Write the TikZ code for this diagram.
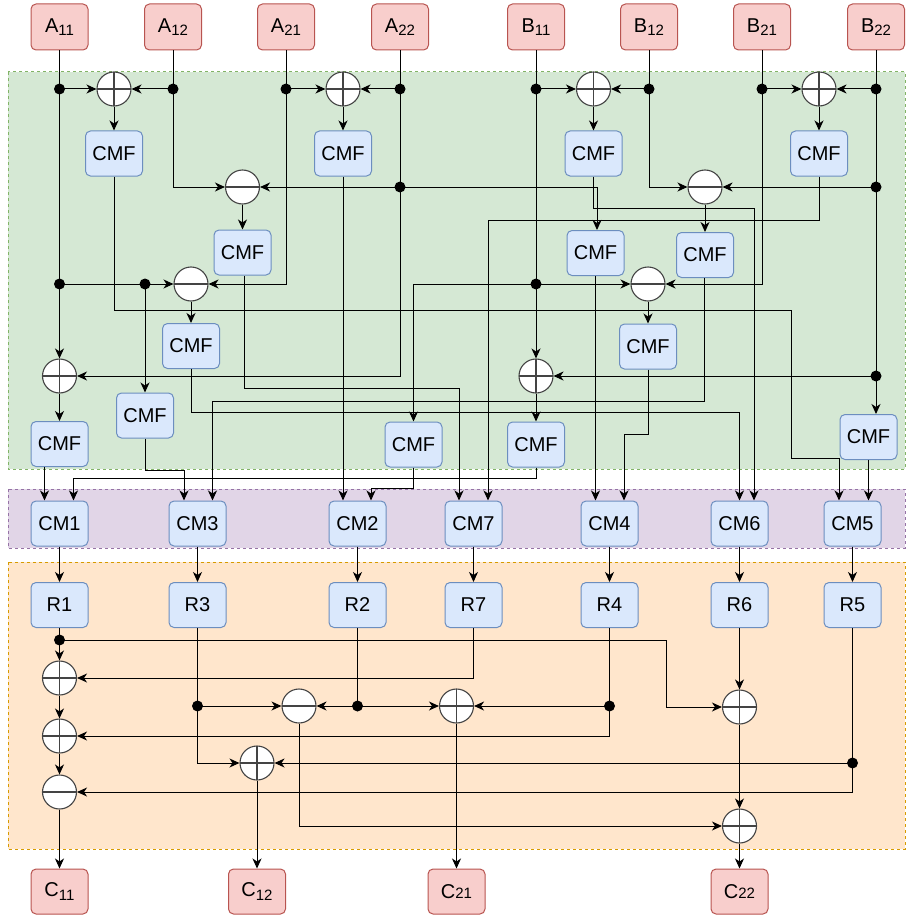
\documentclass[tikz,border=0pt]{standalone}
\usepackage{fontspec}
\setmainfont{Liberation Sans}
\usetikzlibrary{arrows.meta}
\definecolor{gfill}{HTML}{D5E8D4}
\definecolor{gdraw}{HTML}{82B366}
\definecolor{pfill}{HTML}{E1D5E7}
\definecolor{pdraw}{HTML}{9673A6}
\definecolor{ofill}{HTML}{FFE6CC}
\definecolor{odraw}{HTML}{D79B00}
\definecolor{bfill}{HTML}{DAE8FC}
\definecolor{bdraw}{HTML}{6C8EBF}
\definecolor{rfill}{HTML}{F8CECC}
\definecolor{rdraw}{HTML}{B85450}
\definecolor{opdraw}{HTML}{444444}
\newcommand{\lsub}[1]{\raisebox{-3.5pt}{\fontsize{15}{15}\selectfont #1}}
\newcommand{\bsub}[1]{{\fontsize{15}{15}\selectfont #1}}
\tikzset{
  bx/.style={draw=bdraw, fill=bfill, rounded corners=5pt, minimum width=57pt, minimum height=45pt, inner sep=0pt, line width=1pt, font=\fontsize{20}{20}\selectfont},
  io/.style={bx, draw=rdraw, fill=rfill, minimum height=46pt},
  opbase/.style={circle, draw=opdraw, fill=white, minimum size=34pt, inner sep=0pt, line width=1.1pt},
  opplus/.style={opbase, path picture={\draw[opdraw, line width=1.1pt] (path picture bounding box.north) -- (path picture bounding box.south) (path picture bounding box.west) -- (path picture bounding box.east);}},
  opminus/.style={opbase, path picture={\draw[opdraw, line width=1.1pt] (path picture bounding box.west) -- (path picture bounding box.east);}},
  jdot/.style={circle, fill=black, minimum size=11pt, inner sep=0pt},
  wire/.style={line width=1pt},
  arr/.style={line width=1pt, -{Stealth[length=10pt,width=9pt,inset=3pt]}},
  region/.style={line width=1pt, dash pattern=on 3pt off 3pt}
}
\begin{document}
\begin{tikzpicture}[x=1pt,y=-1pt]
\useasboundingbox (0,0) rectangle (907,915);
% regions
\draw[region, draw=gdraw, fill=gfill] (8,72) rectangle (905,469);
\draw[region, draw=pdraw, fill=pfill] (8,489) rectangle (905,548);
\draw[region, draw=odraw, fill=ofill] (8,562) rectangle (905,849);
% inputs
\node[io] (a11) at (59.5,27) {A\lsub{11}};
\node[io] (a12) at (173,27) {A\lsub{12}};
\node[io] (a21) at (286,27) {A\lsub{21}};
\node[io] (a22) at (400,27) {A\lsub{22}};
\node[io] (b11) at (536,27) {B\lsub{11}};
\node[io] (b12) at (649,27) {B\lsub{12}};
\node[io] (b21) at (762,27) {B\lsub{21}};
\node[io] (b22) at (876,27) {B\lsub{22}};
% junction dots
\node[jdot] (da11) at (59.5,89) {};
\node[jdot] (da12) at (173,89) {};
\node[jdot] (da21) at (286,89) {};
\node[jdot] (da22) at (400,89) {};
\node[jdot] (db11) at (536,89) {};
\node[jdot] (db12) at (649,89) {};
\node[jdot] (db21) at (762,89) {};
\node[jdot] (db22) at (876,89) {};
\node[jdot] (da22b) at (400,187) {};
\node[jdot] (db22b) at (876,187) {};
\node[jdot] (da11b) at (59.5,284) {};
\node[jdot] (da11c) at (145,284) {};
\node[jdot] (db11b) at (536,284) {};
\node[jdot] (db22c) at (876,376) {};
% operators (top)
\node[opplus] (p1) at (114,89) {};
\node[opplus] (p2) at (343,89) {};
\node[opplus] (p3) at (593.5,89) {};
\node[opplus] (p4) at (819,89) {};
\node[opminus] (m1) at (242.5,187) {};
\node[opminus] (m2) at (705,187) {};
\node[opminus] (m3) at (191,284) {};
\node[opminus] (m4) at (648,284) {};
\node[opplus] (p5) at (59.5,376) {};
\node[opplus] (p6) at (536,376) {};
% CMF boxes
\node[bx] (f1) at (114,153.5) {CMF};
\node[bx] (f2) at (343,153.5) {CMF};
\node[bx] (f3) at (593.5,153.5) {CMF};
\node[bx] (f4) at (819,153.5) {CMF};
\node[bx] (f5) at (242.5,252.5) {CMF};
\node[bx] (f6) at (595.5,253) {CMF};
\node[bx] (f7) at (705,255) {CMF};
\node[bx] (f8) at (191,346) {CMF};
\node[bx] (f9) at (648,346.5) {CMF};
\node[bx] (f10) at (145,415.5) {CMF};
\node[bx] (f11) at (59.5,444) {CMF};
\node[bx] (f12) at (413.5,444.5) {CMF};
\node[bx] (f13) at (536,444.5) {CMF};
\node[bx] (f14) at (868.5,437) {CMF};
% CM boxes
\node[bx] (cm1) at (59.5,523.5) {CM1};
\node[bx] (cm3) at (197.5,523.5) {CM3};
\node[bx] (cm2) at (357.5,523.5) {CM2};
\node[bx] (cm7) at (473.5,523.5) {CM7};
\node[bx] (cm4) at (609.5,523.5) {CM4};
\node[bx] (cm6) at (739.5,523.5) {CM6};
\node[bx] (cm5) at (852.5,523.5) {CM5};
% R boxes
\node[bx] (r1) at (59.5,605) {R1};
\node[bx] (r3) at (197.5,605) {R3};
\node[bx] (r2) at (357.5,605) {R2};
\node[bx] (r7) at (473.5,605) {R7};
\node[bx] (r4) at (609.5,605) {R4};
\node[bx] (r6) at (739.5,605) {R6};
\node[bx] (r5) at (852.5,605) {R5};
% bottom operators
\node[opplus] (q1) at (59.5,678) {};
\node[opplus] (q2) at (59.5,736) {};
\node[opminus] (q3) at (59.5,792) {};
\node[opminus] (q4) at (299,706) {};
\node[opplus] (q5) at (456.5,706) {};
\node[opplus] (q6) at (257,763) {};
\node[opplus] (q7) at (739.5,707) {};
\node[opplus] (q8) at (739.5,826) {};
\node[jdot] (e1) at (59.5,640) {};
\node[jdot] (e3) at (197.5,706) {};
\node[jdot] (e2) at (357.5,706) {};
\node[jdot] (e4) at (609.5,706) {};
\node[jdot] (e5) at (852.5,763) {};
% outputs
\node[io, minimum height=45pt] (c11) at (59.5,891.5) {C\lsub{11}};
\node[io, minimum height=45pt] (c12) at (257,891.5) {C\lsub{12}};
\node[io, minimum height=45pt] (c21) at (456.5,891.5) {C\bsub{21}};
\node[io, minimum height=45pt] (c22) at (739.5,891.5) {C\bsub{22}};
% ---- wires, top stage
\foreach \s/\d in {a11/da11,a12/da12,a21/da21,a22/da22,b11/db11,b12/db12,b21/db21,b22/db22}
  \draw[wire] (\s.south) -- (\d.center);
\draw[arr] (da11.center) -- (p1.west);
\draw[arr] (da12.center) -- (p1.east);
\draw[arr] (da21.center) -- (p2.west);
\draw[arr] (da22.center) -- (p2.east);
\draw[arr] (db11.center) -- (p3.west);
\draw[arr] (db12.center) -- (p3.east);
\draw[arr] (db21.center) -- (p4.west);
\draw[arr] (db22.center) -- (p4.east);
\draw[arr] (p1.south) -- (f1.north);
\draw[arr] (p2.south) -- (f2.north);
\draw[arr] (p3.south) -- (f3.north);
\draw[arr] (p4.south) -- (f4.north);
% A11
\draw[wire] (da11.center) -- (da11b.center);
\draw[arr] (da11b.center) -- (p5.north);
\draw[arr] (da11b.center) -- (m3.west);
\draw[arr] (da11c.center) -- (f10.north);
% A12, A21
\draw[arr] (da12.center) |- (m1.west);
\draw[arr] (da21.center) |- (m3.east);
% A22
\draw[wire] (da22.center) -- (da22b.center);
\draw[arr] (da22b.center) |- (p5.east);
\draw[arr] (da22b.center) -- (m1.east);
\draw[arr] (da22b.center) -| ([xshift=1.5pt]f6.north);
% B11
\draw[wire] (db11.center) -- (db11b.center);
\draw[arr] (db11b.center) -- (p6.north);
\draw[arr] (db11b.center) -- (m4.west);
\draw[arr] (db11b.center) -| (f12.north);
% B12, B21
\draw[arr] (db12.center) |- (m2.west);
\draw[arr] (db21.center) |- (m4.east);
% B22
\draw[wire] (db22.center) -- (db22b.center) -- (db22c.center);
\draw[arr] (db22b.center) -- (m2.east);
\draw[arr] (db22c.center) -- (p6.east);
\draw[arr] (db22c.center) -- ([xshift=7.5pt]f14.north);
% operators to CMF
\draw[arr] (m1.south) -- (f5.north);
\draw[arr] (m2.south) -- (f7.north);
\draw[arr] (m3.south) -- (f8.north);
\draw[arr] (m4.south) -- (f9.north);
\draw[arr] (p5.south) -- (f11.north);
\draw[arr] (p6.south) -- (f13.north);
% CMF to CM
\draw[arr] (f1.south) |- (791,310) -- (791,458) -| ([xshift=-13.5pt]cm5.north);
\draw[arr] (f2.south) -- ([xshift=-14.5pt]cm2.north);
\draw[arr] (f3.south) |- (754,208) -- ([xshift=14.5pt]cm6.north);
\draw[arr] (f4.south) |- (488,220) -- ([xshift=14.5pt]cm7.north);
\draw[arr] ([xshift=1.5pt]f5.south) |- (459,388) -- ([xshift=-14.5pt]cm7.north);
\draw[arr] (f6.south) -- ([xshift=-14pt]cm4.north);
\draw[arr] ([xshift=-1pt]f7.south) |- (212.5,401) -- ([xshift=15pt]cm3.north);
\draw[arr] (f8.south) |- (739.5,412) -- (cm6.north);
\draw[arr] (f9.south) |- (624,434) -- ([xshift=14.5pt]cm4.north);
\draw[arr] (f10.south) |- (184,470) -- ([xshift=-13.5pt]cm3.north);
\draw[arr] ([xshift=-15pt]f11.south) -- ([xshift=-15pt]cm1.north);
\draw[arr] (f12.south) |- (371,488) -- ([xshift=13.5pt]cm2.north);
\draw[arr] (f13.south) |- (73.5,478) -- ([xshift=14pt]cm1.north);
\draw[arr] (f14.south) -- ([xshift=16pt]cm5.north);
% CM to R
\foreach \n in {1,2,3,4,5,6,7}
  \draw[arr] (cm\n.south) -- (r\n.north);
% ---- bottom stage
\draw[wire] (r1.south) -- (e1.center);
\draw[arr] (e1.center) -- (q1.north);
\draw[arr] (e1.center) -- (666,640) |- (q7.west);
\draw[arr] (q1.south) -- (q2.north);
\draw[arr] (q2.south) -- (q3.north);
\draw[arr] (q3.south) -- (c11.north);
\draw[arr] (r7.south) |- (q1.east);
\draw[wire] (r4.south) -- (e4.center);
\draw[arr] (e4.center) -- (q5.east);
\draw[arr] (e4.center) |- (q2.east);
\draw[wire] (r5.south) -- (e5.center);
\draw[arr] (e5.center) -- (q6.east);
\draw[arr] (e5.center) |- (q3.east);
\draw[wire] (r3.south) -- (e3.center);
\draw[arr] (e3.center) -- (q4.west);
\draw[arr] (e3.center) |- (q6.west);
\draw[wire] (r2.south) -- (e2.center);
\draw[arr] (e2.center) -- (q4.east);
\draw[arr] (e2.center) -- (q5.west);
\draw[arr] (q4.south) |- (q8.west);
\draw[arr] (r6.south) -- (q7.north);
\draw[arr] (q7.south) -- (q8.north);
\draw[arr] (q8.south) -- (c22.north);
\draw[arr] (q5.south) -- (c21.north);
\draw[arr] (q6.south) -- (c12.north);
\end{tikzpicture}
\end{document}
